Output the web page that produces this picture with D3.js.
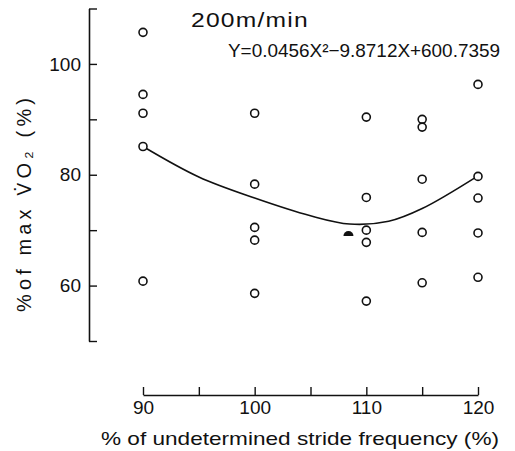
<!DOCTYPE html>
<html>
<head>
<meta charset="utf-8">
<script src="https://cdn.jsdelivr.net/npm/d3@7"></script>
<style>
  body { margin: 0; background: #fff; }
  text { font-family: "Liberation Sans", Arial, sans-serif; fill: #111; }
</style>
</head>
<body>
<svg id="chart" width="515" height="451"></svg>
<script>
// stride frequency columns (% of undetermined) and %VO2max values per column
const strideFreq = [90, 100, 110, 115, 120];
const vo2Values = [
    [105.7, 94.5, 91.1, 85.1, 60.8],
    [91.1, 78.3, 70.5, 68.2, 58.6],
    [90.4, 75.9, 70.0, 67.8, 57.2],
    [90.0, 88.6, 79.2, 69.6, 60.5],
    [96.3, 79.7, 75.8, 69.5, 61.5]
];
// filled (mean) marker
const meanPoint = { x: 108.4, y: 69.3 };
// regression curve
const curveX = [90, 95, 100, 105, 108.5, 112, 115, 120];
const curveY = [85.1, 79.6, 75.8, 72.6, 71.1, 71.6, 73.9, 79.8];

const xTicks = [90, 95, 100, 105, 110, 115, 120];
const xLabels = [90, 100, 110, 120];
const yTicks = [50, 60, 70, 80, 90, 100, 110];
const yLabels = [60, 80, 100];

const svg = d3.select("#chart");

const x = d3.scaleLinear().domain([90, 120]).range([143, 478]);
const y = d3.scaleLinear().domain([50, 110]).range([341, 8.5]);

// y axis, ticks pointing inward
const yAxis = d3.axisLeft(y)
    .tickValues(yTicks)
    .tickSizeInner(-8)
    .tickSizeOuter(0)
    .tickPadding(8)
    .tickFormat(d => yLabels.includes(d) ? d : "");

svg.append("g")
    .attr("transform", "translate(89,0)")
    .call(yAxis)
    .call(g => g.select(".domain").attr("stroke", "#111").attr("stroke-width", 1.6))
    .call(g => g.selectAll(".tick line").attr("stroke", "#111").attr("stroke-width", 1.4))
    .call(g => g.selectAll(".tick text").style("font-size", "19px").attr("fill", "#111"));

// x axis, ticks pointing up
const xAxis = d3.axisBottom(x)
    .tickValues(xTicks)
    .tickSizeInner(-8)
    .tickSizeOuter(0)
    .tickPadding(6)
    .tickFormat(d => xLabels.includes(d) ? d : "");

svg.append("g")
    .attr("transform", "translate(0,395)")
    .call(xAxis)
    .call(g => g.select(".domain").attr("stroke", "#111").attr("stroke-width", 1.6))
    .call(g => g.selectAll(".tick line").attr("stroke", "#111").attr("stroke-width", 1.4))
    .call(g => g.selectAll(".tick text").style("font-size", "19px").attr("fill", "#111"));

// regression curve
const line = d3.line()
    .x(d => x(d[0]))
    .y(d => y(d[1]))
    .curve(d3.curveCatmullRom.alpha(0.5));

svg.append("path")
    .datum(d3.zip(curveX, curveY))
    .attr("d", line)
    .attr("fill", "none")
    .attr("stroke", "#111")
    .attr("stroke-width", 1.6);

// open circles
const points = [];
strideFreq.forEach((f, i) => vo2Values[i].forEach(v => points.push([f, v])));

svg.append("g").selectAll("circle")
    .data(points)
    .enter().append("circle")
    .attr("cx", d => x(d[0]))
    .attr("cy", d => y(d[1]))
    .attr("r", 4)
    .attr("fill", "#fff")
    .attr("stroke", "#111")
    .attr("stroke-width", 1.6);

// filled half marker
const half = d3.arc()
    .innerRadius(0)
    .outerRadius(5)
    .startAngle(-Math.PI / 2)
    .endAngle(Math.PI / 2);

svg.append("path")
    .attr("d", half())
    .attr("transform", "translate(" + x(meanPoint.x) + "," + (y(meanPoint.y) + 2) + ")")
    .attr("fill", "#111");

// annotation
svg.append("text")
    .attr("x", 191)
    .attr("y", 27)
    .style("font-size", "20px")
    .style("letter-spacing", "1px")
    .attr("textLength", 118)
    .attr("lengthAdjust", "spacingAndGlyphs")
    .text("200m/min");

svg.append("text")
    .attr("x", 228)
    .attr("y", 57)
    .style("font-size", "19px")
    .attr("textLength", 272)
    .attr("lengthAdjust", "spacingAndGlyphs")
    .text("Y=0.0456X\u00B2\u22129.8712X+600.7359");

// axis titles
const yTitle = svg.append("text")
    .attr("transform", "translate(31,205) rotate(-90)")
    .attr("text-anchor", "middle")
    .style("font-size", "20px")
    .attr("textLength", 214)
    .attr("lengthAdjust", "spacing");
yTitle.append("tspan").text("%of max ");
yTitle.append("tspan").style("font-family", "DejaVu Sans").style("font-size", "19px").text("V\u0307");
yTitle.append("tspan").text("O\u2082   (%)");

svg.append("text")
    .attr("x", 101)
    .attr("y", 445)
    .style("font-size", "19px")
    .attr("textLength", 398)
    .attr("lengthAdjust", "spacingAndGlyphs")
    .text("% of undetermined stride frequency (%)");
</script>
</body>
</html>
